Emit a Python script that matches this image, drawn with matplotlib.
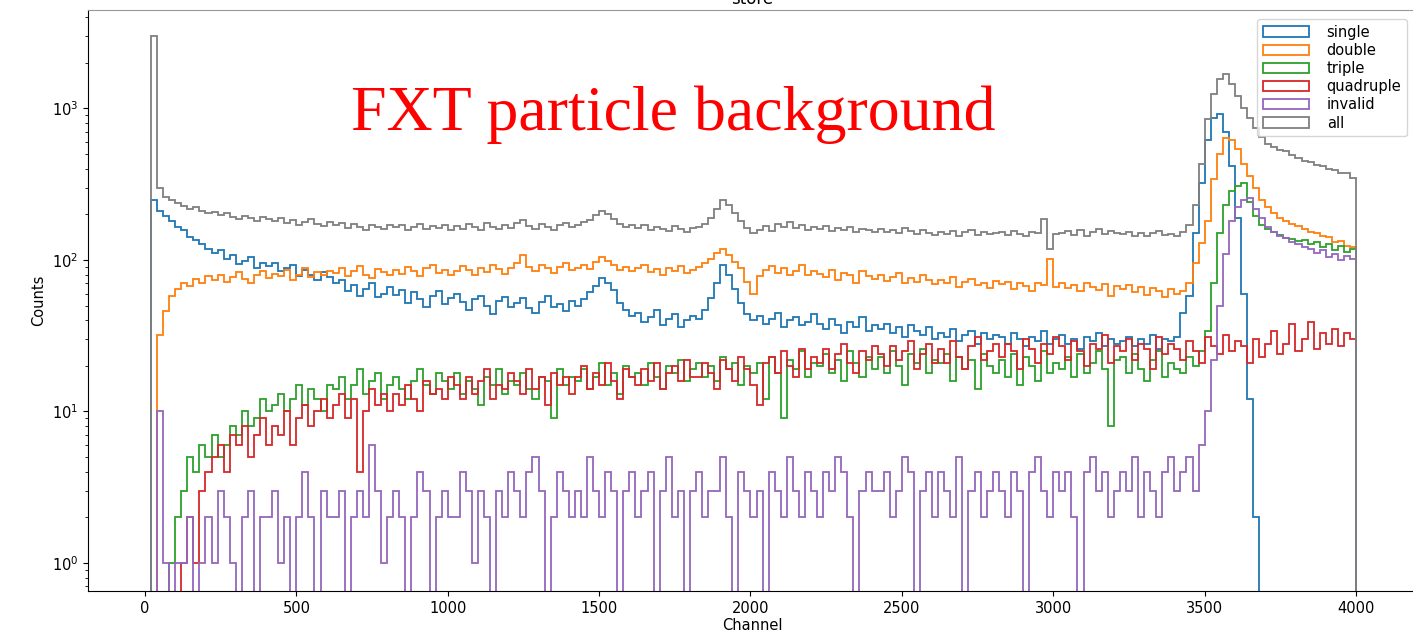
import numpy as np
import matplotlib
matplotlib.use('Agg')
import matplotlib.pyplot as plt

# 20-channel bins from 20 to 4000
channel_edges = np.arange(20, 4001, 20)

single = [248, 212, 196, 182, 165, 158, 141, 136, 128, 118,
          112, 116, 101, 108, 94, 99, 104, 88, 96, 91,
          95, 84, 89, 93, 78, 86, 80, 74, 83, 77,
          70, 74, 62, 68, 58, 64, 71, 57, 60, 66,
          59, 63, 52, 61, 55, 49, 58, 62, 51, 56,
          60, 53, 47, 55, 58, 50, 44, 54, 57, 49,
          52, 56, 48, 45, 53, 58, 49, 51, 46, 54,
          50, 55, 61, 67, 76, 71, 63, 52, 47, 43,
          45, 39, 42, 47, 37, 41, 44, 36, 40, 43,
          41, 47, 56, 70, 92, 80, 64, 52, 44, 40,
          43, 38, 41, 45, 36, 40, 42, 37, 39, 44,
          38, 35, 41, 37, 33, 39, 36, 42, 34, 37,
          35, 38, 33, 36, 31, 37, 34, 32, 36, 30,
          33, 31, 35, 29, 32, 34, 28, 33, 30, 32,
          31, 28, 33, 30, 27, 31, 29, 34, 28, 30,
          32, 28, 30, 26, 31, 29, 33, 27, 30, 28,
          29, 31, 27, 30, 28, 32, 26, 30, 29, 31,
          45, 58, 150, 320, 620, 860, 920, 700, 420, 190,
          60, 12, 2, 0, 0, 0, 0, 0, 0, 0,
          0, 0, 0, 0, 0, 0, 0, 0, 0]

double = [0, 32, 46, 58, 64, 70, 67, 75, 71, 78,
          74, 80, 72, 77, 83, 75, 70, 79, 84, 76,
          81, 78, 86, 74, 80, 88, 77, 83, 79, 85,
          82, 89, 78, 84, 91, 80, 76, 87, 83, 79,
          86, 81, 90, 84, 78, 88, 93, 82, 86, 80,
          84, 91, 86, 79, 88, 83, 92, 87, 81, 89,
          96, 108, 90, 85, 93, 88, 82, 90, 95, 86,
          89, 93, 87, 97, 105, 99, 92, 86, 90, 84,
          88, 92, 83, 87, 80, 89, 85, 91, 82, 86,
          90, 95, 102, 112, 118, 108, 97, 89, 72, 60,
          78, 86, 91, 82, 88, 79, 85, 92, 80, 84,
          81, 77, 86, 74, 82, 79, 71, 84, 78, 75,
          79, 73, 77, 82, 70, 76, 72, 79, 74, 69,
          74, 70, 77, 66, 72, 75, 68, 71, 65, 73,
          69, 72, 64, 70, 67, 62, 71, 68, 102, 66,
          70, 65, 68, 62, 71, 66, 63, 69, 58, 67,
          64, 68, 61, 66, 59, 65, 62, 57, 64, 60,
          62, 70, 95, 130, 180, 340, 500, 640, 620, 540,
          430, 360, 300, 250, 225, 205, 188, 180, 172, 168,
          160, 154, 150, 143, 141, 132, 133, 124, 122]

triple = [0, 0, 0, 1, 2, 3, 5, 4, 6, 5,
          7, 5, 6, 8, 7, 10, 8, 9, 12, 10,
          11, 13, 10, 12, 15, 11, 14, 12, 10, 15,
          14, 17, 12, 15, 19, 13, 16, 18, 12, 15,
          17, 14, 12, 16, 19, 15, 13, 18, 16, 14,
          18, 13, 16, 14, 11, 17, 15, 19, 13, 16,
          15, 18, 14, 12, 17, 16, 9, 19, 15, 17,
          16, 19, 14, 17, 21, 15, 18, 13, 20, 17,
          18, 15, 21, 17, 14, 20, 18, 22, 16, 19,
          21, 17, 20, 16, 23, 19, 21, 15, 20, 18,
          21, 12, 23, 18, 9, 22, 19, 25, 17, 21,
          20, 24, 18, 22, 16, 25, 21, 17, 23, 19,
          23, 18, 25, 20, 15, 24, 21, 26, 18, 22,
          21, 24, 16, 23, 19, 22, 14, 24, 20, 18,
          22, 17, 24, 15, 23, 20, 16, 25, 18, 21,
          19, 23, 17, 24, 18, 21, 25, 19, 8, 22,
          23, 18, 24, 19, 16, 22, 25, 17, 21, 19,
          18, 23, 20, 25, 34, 70, 150, 230, 285, 310,
          320, 240, 195, 170, 160, 152, 146, 140, 138, 134,
          135, 128, 131, 122, 127, 117, 123, 113, 118]

quadruple = [0, 0, 0, 0, 0, 1, 2, 1, 3, 4,
             5, 6, 4, 7, 6, 8, 5, 7, 9, 6,
             8, 7, 10, 6, 9, 11, 8, 10, 12, 9,
             11, 13, 9, 12, 4, 10, 14, 11, 13, 10,
             13, 11, 15, 12, 10, 16, 13, 14, 12, 17,
             15, 12, 17, 13, 16, 19, 12, 15, 14, 18,
             16, 13, 19, 14, 17, 11, 18, 15, 17, 13,
             17, 20, 14, 18, 15, 21, 16, 12, 19, 17,
             15, 19, 16, 21, 14, 18, 20, 16, 22, 17,
             17, 21, 18, 14, 22, 19, 16, 23, 19, 15,
             11, 21, 23, 18, 25, 20, 17, 26, 19, 23,
             21, 26, 19, 24, 28, 21, 18, 25, 22, 27,
             24, 20, 27, 22, 25, 29, 19, 24, 28, 21,
             26, 21, 29, 23, 19, 27, 31, 22, 25, 28,
             23, 28, 25, 19, 30, 26, 21, 28, 24, 31,
             27, 22, 29, 25, 20, 28, 26, 32, 21, 27,
             25, 30, 22, 28, 26, 19, 31, 24, 28, 26,
             22, 29, 25, 21, 31, 27, 24, 32, 25, 29,
             27, 21, 30, 23, 28, 34, 24, 28, 38, 25,
             30, 39, 26, 33, 28, 35, 27, 33, 30]

invalid = [0, 10, 1, 0, 1, 1, 2, 0, 1, 2,
           1, 3, 2, 1, 0, 2, 3, 0, 2, 2,
           3, 1, 2, 0, 2, 4, 2, 0, 3, 2,
           2, 3, 0, 2, 3, 2, 6, 3, 1, 2,
           3, 2, 0, 2, 4, 3, 0, 2, 3, 2,
           2, 4, 3, 1, 3, 2, 0, 3, 2, 4,
           3, 2, 4, 5, 3, 0, 2, 4, 3, 2,
           3, 2, 5, 3, 2, 4, 3, 0, 3, 4,
           2, 3, 4, 0, 3, 5, 2, 3, 0, 3,
           4, 2, 3, 3, 5, 2, 0, 4, 3, 2,
           3, 0, 4, 3, 2, 5, 3, 2, 4, 3,
           2, 4, 3, 5, 4, 2, 0, 3, 4, 3,
           3, 4, 2, 3, 5, 4, 0, 3, 4, 2,
           4, 3, 2, 5, 0, 3, 4, 2, 3, 4,
           3, 2, 4, 3, 0, 4, 5, 3, 2, 4,
           3, 4, 2, 0, 4, 5, 3, 4, 2, 3,
           4, 3, 5, 2, 4, 3, 2, 4, 5, 3,
           4, 5, 3, 6, 10, 22, 50, 110, 180, 225,
           250, 258, 218, 188, 164, 154, 143, 140, 131, 128,
           121, 119, 111, 116, 105, 110, 100, 106, 101]

all_events = [3000, 300, 262, 248, 236, 228, 218, 225, 212, 205,
              208, 198, 204, 192, 186, 196, 189, 182, 193, 185,
              180, 188, 176, 183, 171, 179, 186, 172, 168, 177,
              170, 176, 163, 172, 166, 158, 171, 165, 161, 169,
              164, 171, 158, 166, 173, 160, 167, 162, 170, 157,
              168, 161, 174, 165, 158, 176, 166, 160, 171, 163,
              175, 184, 168, 161, 172, 166, 158, 170, 176, 164,
              170, 178, 184, 198, 212, 200, 186, 174, 166, 171,
              163, 169, 158, 165, 160, 156, 167, 159, 154, 162,
              165, 172, 188, 218, 248, 232, 204, 180, 162, 150,
              158, 168, 155, 174, 166, 178, 162, 170, 157, 166,
              160, 167, 155, 163, 158, 166, 152, 161, 157, 154,
              160, 153, 158, 150, 162, 155, 148, 157, 151, 146,
              154, 148, 156, 144, 152, 158, 146, 153, 148, 150,
              152, 146, 156, 148, 143, 154, 150, 186, 118, 149,
              150, 156, 147, 158, 145, 153, 160, 148, 155, 151,
              148, 154, 145, 151, 143, 150, 156, 146, 148, 144,
              152, 170, 230, 430, 850, 1250, 1560, 1700, 1450, 1200,
              1000, 860, 740, 650, 585, 560, 530, 522, 490, 474,
              450, 444, 422, 414, 398, 393, 376, 374, 348]

labels = ['single', 'double', 'triple', 'quadruple', 'invalid', 'all']
series = [single, double, triple, quadruple, invalid, all_events]
colors = ['tab:blue', 'tab:orange', 'tab:green', 'tab:red', 'tab:purple', 'tab:gray']

fig = plt.figure(figsize=(14.13, 6.33), dpi=100)
ax = fig.add_axes([88 / 1413, 42 / 633, 1328 / 1413, 581 / 633])

for counts, lab, col in zip(series, labels, colors):
    ax.hist(channel_edges[:-1], bins=channel_edges, weights=counts,
            histtype='step', log=True, color=col, label=lab, linewidth=1.3)

ax.set_xlim(-188, 4198)
ax.set_ylim(10 ** -0.185, 10 ** 3.65)
ax.set_xticks(np.arange(0, 4001, 500))
ax.tick_params(labelsize=10.5)
ax.spines['top'].set_color('#999999')
ax.set_xlabel('Channel', fontsize=10.5, labelpad=2)
ax.set_ylabel('Counts', fontsize=10.5)
ax.set_title('store', pad=4)
ax.legend(loc='upper right', fontsize=10.5, handlelength=3.2,
          handletextpad=1.2, labelspacing=0.22, borderaxespad=0.6)

fig.text(351 / 1413, (633 - 130) / 633, 'FXT particle background', color='red',
         fontsize=46, family='Liberation Serif', va='baseline')

fig.savefig('out.png', dpi=100)
